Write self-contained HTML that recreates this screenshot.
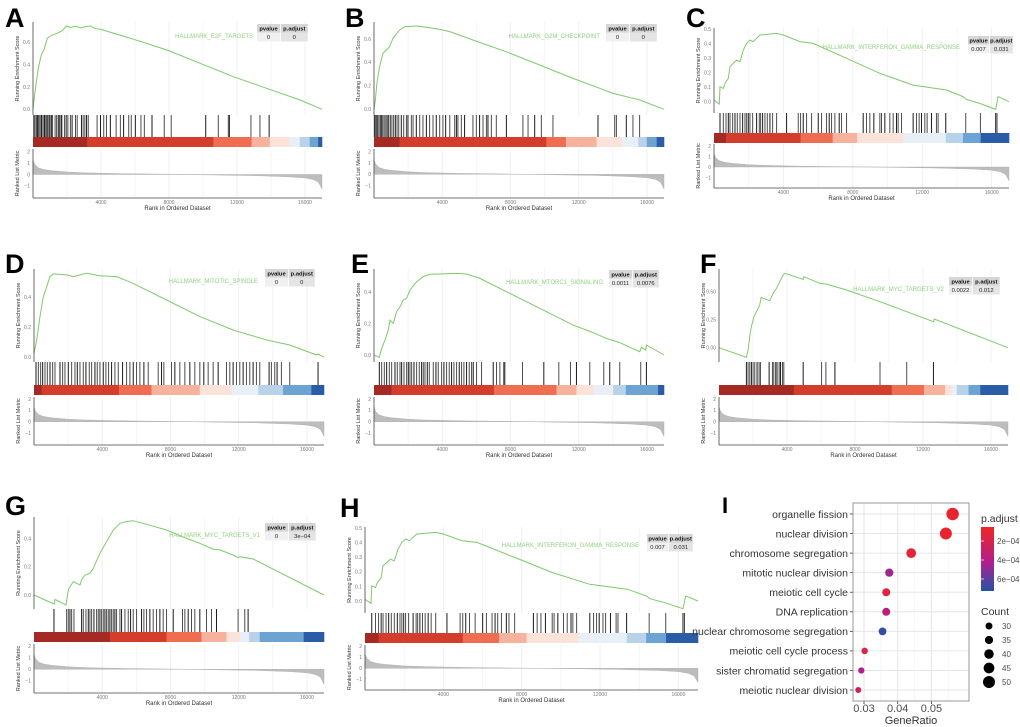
<!DOCTYPE html>
<html><head><meta charset="utf-8"><style>
html,body{margin:0;padding:0;background:#fff;}
svg{display:block;font-family:"Liberation Sans",sans-serif;}
</style></head><body>
<svg id="fig" width="1020" height="727" viewBox="0 0 1020 727" xmlns="http://www.w3.org/2000/svg"></svg>
<script>
// ---------- data ----------
const xTickLabels = [4000, 8000, 12000, 16000];
const metricRanks = [0,100,300,600,1000,2000,3000,5000,7000,9000,11000,13000,15000,16000,16500,16800,17000];
const metricVals  = [1.3,0.9,0.6,0.45,0.35,0.22,0.15,0.08,0.04,0,-0.05,-0.1,-0.2,-0.3,-0.45,-0.7,-1.3];
const barColors = ["#a52a23","#d43d2b","#ef6e52","#f6b29c","#fce3d9","#e8eff7","#b8d3e9","#6da3d2","#2b5ca8"];

const esRanksA = [0,60,160,250,350,490,640,840,1030,1430,1720,1970,2210,2500,2800,3090,3380,3680,3970,5930,7880,9830,11790,13740,15690,17000];
const esValsA  = [0,0.084,0.203,0.307,0.397,0.487,0.531,0.636,0.657,0.681,0.704,0.746,0.731,0.746,0.728,0.740,0.746,0.722,0.716,0.627,0.531,0.412,0.292,0.188,0.084,0];
const hitsA = [50,120,200,260,330,400,480,520,600,680,720,800,870,950,1000,1080,1150,1300,1400,1500,1560,1650,1700,1850,1950,2050,2200,2300,2500,2600,2850,2950,3050,3150,3250,3770,3970,4160,4320,4550,4890,5140,5330,5630,5780,6020,6350,6550,7000,7720,8130,10160,10900,11490,11550,12820,13350,13890];
const breaksA = [3185,10610,12860,13930,15070,15690,16280,16770];

const esRanksB = [0,80,170,330,530,720,920,1110,1500,1800,2480,3070,3850,4440,5800,7760,9710,11670,13230,14010,14790,15570,17000];
const esValsB  = [0,0.080,0.222,0.364,0.478,0.506,0.535,0.605,0.677,0.705,0.711,0.700,0.682,0.663,0.591,0.491,0.378,0.264,0.179,0.136,0.108,0.080,0];
const hitsB = [20,80,150,220,300,380,450,520,600,700,780,850,950,1050,1150,1250,1350,1450,1600,1740,1900,1990,2190,2290,2480,2680,2870,3070,3260,3460,3650,3850,4040,4200,4440,4730,4830,4920,5120,5310,5800,6000,6190,6390,6590,6680,6880,7170,7760,8730,9030,9420,9810,10490,13130,14110,14210,14790,15180,15570];
const breaksB = [1500,10100,11250,13050,14520,15500,15990,16570];

const esRanksC = [0,307,345,537,633,825,921,1113,1305,1497,1689,1880,2072,2264,2456,2648,3032,3608,3992,4951,5719,7638,9557,11476,13395,14354,14546,15314,16235,16370,17000];
const esValsC  = [0.012,-0.016,0.104,0.092,0.127,0.161,0.242,0.265,0.288,0.276,0.357,0.403,0.426,0.415,0.438,0.461,0.465,0.472,0.461,0.415,0.403,0.300,0.196,0.115,0.081,0.035,0.016,-0.012,-0.053,0.035,0];
const hitsC = [345,537,691,825,921,1075,1209,1343,1497,1650,1785,1881,1977,2072,2226,2456,2610,2687,2802,2936,3071,3224,3378,3608,4183,4855,4989,5143,5335,5623,6007,6198,6486,6640,6774,6966,7215,7350,7638,8597,8789,8981,9211,9557,9653,9845,10132,10324,10516,10612,10804,11476,11668,11821,11956,12148,12282,12531,12819,12915,13356,14507,15352,16234,16311];
const breaksC = [690,4990,6840,8250,10900,13360,14350,15370];

const esRanksD = [0,156,351,546,742,937,1132,1913,2303,3084,3865,4841,5817,7769,9720,11672,13624,14991,16552,16650,17000];
const esValsD  = [0.027,0.116,0.271,0.404,0.471,0.538,0.556,0.549,0.538,0.560,0.544,0.538,0.493,0.382,0.271,0.182,0.116,0.082,0.016,0.022,0];
const hitsD = [117,254,390,508,644,781,937,1093,1230,1523,1679,1815,2011,2206,2401,2538,2694,2889,3045,3240,3377,3572,3709,3865,4060,4216,4372,4548,4743,4939,5192,5427,5622,5817,6012,6207,6442,6695,7281,7476,7613,8062,8257,8550,8843,9136,9428,9721,9955,10209,10502,10795,11283,11478,11673,11868,12063,12259,12454,12649,12844,13039,13234,13781,13918,14113,14250,14503,14991,16651];
const breaksD = [450,4980,6890,9720,11580,13150,14600,16260];

const esRanksE = [0,312,449,644,839,937,1132,1327,1522,1718,1913,2108,2498,2889,3279,3865,4841,5427,6207,7769,9720,11672,12843,13624,14405,15576,15674,15928,15967,17000];
const esValsE  = [0,-0.015,0.043,0.096,0.160,0.223,0.202,0.277,0.309,0.351,0.362,0.415,0.468,0.500,0.515,0.517,0.521,0.517,0.489,0.404,0.298,0.191,0.143,0.106,0.079,0.021,0.049,0.032,0.064,0];
const hitsE = [312,449,605,742,898,1035,1230,1366,1523,1620,1757,1913,2011,2108,2206,2343,2499,2655,2791,2889,2987,3123,3240,3475,3631,3767,3963,4099,4255,4411,4548,4685,4841,4997,5134,5270,5427,5583,5719,5817,6012,6305,6988,7183,7379,7613,7672,8706,9955,10834,11517,11868,12649,13469,13820,14406,15636,15968];
const breaksE = [1030,7030,10700,11870,12890,14020,14760,16650];

const esRanksF = [0,1611,1710,1808,1906,2044,2201,2397,2476,2987,3184,3380,3577,3773,3872,4953,4992,5936,6329,7508,9473,11045,12617,12656,17000];
const esValsF  = [0,-0.086,-0.021,0.098,0.188,0.271,0.321,0.381,0.449,0.420,0.485,0.530,0.589,0.649,0.664,0.610,0.634,0.574,0.568,0.515,0.411,0.321,0.232,0.256,0];
const hitsF = [1611,1710,1808,1906,2004,2103,2240,2358,2437,2948,3144,3223,3341,3419,3537,3616,3734,3812,4952,6033,6288,6819,9471,11043,12615];
const breaksF = [4400,10160,12060,13300,13700,13990,14680,15370];

const esRanksG = [0,1171,1230,1874,2011,2108,2303,2694,2791,2987,3279,3474,3865,4256,4646,5036,5427,5817,6598,7769,8940,9720,10501,10891,11672,11965,12063,12843,17000];
const esValsG  = [0,-0.064,-0.031,-0.071,0.036,0.059,0.095,0.071,0.107,0.142,0.154,0.189,0.296,0.379,0.462,0.509,0.521,0.528,0.502,0.462,0.402,0.367,0.325,0.320,0.284,0.265,0.272,0.256,0];
const hitsG = [1171,1913,2011,2108,2206,2343,2791,2889,3045,3182,3279,3377,3514,3670,3767,3865,3963,4060,4158,4255,4353,4450,4548,4646,4743,4841,5036,5134,5329,5524,5661,5817,6012,6305,6442,6598,6793,6988,7183,7379,7574,7769,8160,8706,8843,9038,9233,9428,9721,10111,10404,10697,11966,12356,12551];
const breaksG = [4450,7770,9820,11280,12060,12610,13230,15810];

// dot plot (panel I)
const goTerms = ["organelle fission","nuclear division","chromosome segregation","mitotic nuclear division","meiotic cell cycle","DNA replication","nuclear chromosome segregation","meiotic cell cycle process","sister chromatid segregation","meiotic nuclear division"];
const goRatio = [0.0563,0.0543,0.0440,0.0375,0.0366,0.0366,0.0355,0.0302,0.0292,0.0283];
const goCount = [52,50,41,35,34,34,33,28,27,26];
const goPadj  = [0.9e-4,1.0e-4,1.2e-4,4.6e-4,1.5e-4,3.6e-4,7.0e-4,1.6e-4,4.2e-4,2.6e-4];
const goRatioTicks = [0.03,0.04,0.05];
const countLegend = [30,35,40,45,50];
const padjTicks = [2e-4,4e-4,6e-4];

// ---------- drawing ----------
const svg = document.getElementById('fig');
const NS = 'http://www.w3.org/2000/svg';
function mk(tag, attrs, parent){
  const e = document.createElementNS(NS, tag);
  for (const k in attrs) e.setAttribute(k, attrs[k]);
  (parent||svg).appendChild(e);
  return e;
}
function txt(s, attrs, parent){ const t = mk('text', attrs, parent); t.textContent = s; return t; }

const panels = [
 {id:'a',letter:'A',lx:5,ly:27,L:33,R:322,esTop:22,es0:109.3,esPer:111.7,esTicks:[0,0.2,0.4,0.6],fmt:1,hitTop:115,hitBot:137,cbTop:137,cbBot:147,mTop:149,mBot:198,m0:174.5,mPer:11.3,tx:257,ty:24,w1:23,w2:27,labR:253,labY:38,name:'HALLMARK_E2F_TARGETS',pv:'0',pa:'0',ranks:esRanksA,vals:esValsA,hits:hitsA,breaks:breaksA},
 {id:'b',letter:'B',lx:345,ly:27,L:374,R:664,esTop:22,es0:109.3,esPer:117.2,esTicks:[0,0.2,0.4,0.6],fmt:1,hitTop:115,hitBot:137,cbTop:137,cbBot:147,mTop:149,mBot:198,m0:174.3,mPer:11.3,tx:606,ty:24,w1:23,w2:27,labR:600,labY:38,name:'HALLMARK_G2M_CHECKPOINT',pv:'0',pa:'0',ranks:esRanksB,vals:esValsB,hits:hitsB,breaks:breaksB},
 {id:'c',letter:'C',lx:686,ly:27,L:714,R:1009,esTop:28,es0:101.7,esPer:144.7,esTicks:[0,0.1,0.2,0.3,0.4,0.5],fmt:1,hitTop:113,hitBot:133,cbTop:133,cbBot:143,mTop:144,mBot:188,m0:167,mPer:10.5,tx:968,ty:36,w1:21,w2:23,labR:960,labY:49,name:'HALLMARK_INTERFERON_GAMMA_RESPONSE',pv:'0.007',pa:'0.031',ranks:esRanksC,vals:esValsC,hits:hitsC,breaks:breaksC},
 {id:'d',letter:'D',lx:5,ly:273,L:34,R:324,esTop:269,es0:357.3,esPer:150,esTicks:[0,0.2,0.4],fmt:1,hitTop:362,hitBot:385,cbTop:385,cbBot:395,mTop:397,mBot:445,m0:421.7,mPer:11.3,tx:265,ty:269,w1:23,w2:26,labR:258,labY:283,name:'HALLMARK_MITOTIC_SPINDLE',pv:'0',pa:'0',ranks:esRanksD,vals:esValsD,hits:hitsD,breaks:breaksD},
 {id:'e',letter:'E',lx:351,ly:273,L:374,R:664,esTop:269,es0:355,esPer:156.7,esTicks:[0,0.2,0.4],fmt:1,hitTop:362,hitBot:385,cbTop:385,cbBot:395,mTop:397,mBot:445,m0:421.7,mPer:11.3,tx:609,ty:270,w1:23,w2:26,labR:603,labY:284,name:'HALLMARK_MTORC1_SIGNALING',pv:'0.0011',pa:'0.0076',ranks:esRanksE,vals:esValsE,hits:hitsE,breaks:breaksE},
 {id:'f',letter:'F',lx:700,ly:273,L:719,R:1008,esTop:269,es0:347.7,esPer:112,esTicks:[0,0.25,0.5],fmt:2,hitTop:362,hitBot:385,cbTop:385,cbBot:395,mTop:397,mBot:445,m0:421.7,mPer:11.3,tx:949,ty:277,w1:23,w2:27,labR:944,labY:291,name:'HALLMARK_MYC_TARGETS_V2',pv:'0.0022',pa:'0.012',ranks:esRanksF,vals:esValsF,hits:hitsF,breaks:breaksF},
 {id:'g',letter:'G',lx:5,ly:515,L:34,R:324,esTop:517,es0:595,esPer:140.8,esTicks:[0,0.2,0.4],fmt:1,hitTop:609,hitBot:632,cbTop:632,cbBot:642,mTop:644,mBot:693,m0:669.3,mPer:11.5,tx:265,ty:523,w1:23,w2:27,labR:260,labY:537,name:'HALLMARK_MYC_TARGETS_V1',pv:'0',pa:'3e\u221204',ranks:esRanksG,vals:esValsG,hits:hitsG,breaks:breaksG},
 {id:'h',letter:'H',lx:340,ly:517,L:365,R:698,esTop:527,es0:601,esPer:145.3,esTicks:[0,0.1,0.2,0.3,0.4,0.5],fmt:1,hitTop:613,hitBot:633,cbTop:633,cbBot:643,mTop:645,mBot:690,m0:668.3,mPer:11,tx:647,ty:534,w1:21,w2:24,labR:639,labY:547,name:'HALLMARK_INTERFERON_GAMMA_RESPONSE',pv:'0.007',pa:'0.031',ranks:esRanksC,vals:esValsC,hits:hitsC,breaks:breaksC}
];

const RMAX = 17000;
panels.forEach(p => {
  const g = mk('g', {});
  
  
  const X = r => p.L + r / RMAX * (p.R - p.L);
  const YE = v => p.es0 - v * p.esPer;
  const YM = v => p.m0 - v * p.mPer;
  for (let r = 2000; r < RMAX; r += 2000) {
    const major = r % 4000 === 0;
    const gl1 = mk('line', {x1:X(r),x2:X(r),y1:p.esTop,y2:p.hitTop,stroke:'#ececec','stroke-width':major?0.8:0.5}, g);
     
    const gl2 = mk('line', {x1:X(r),x2:X(r),y1:p.mTop,y2:p.mBot,stroke:'#ececec','stroke-width':major?0.8:0.5}, g);
     
  }
  p.esTicks.forEach(v => {
    const t = txt(v.toFixed(p.fmt), {x:p.L-3,y:YE(v)+1.8,'font-size':5,fill:'#777','text-anchor':'end'}, g);
     
  });
  const pts = p.ranks.map((r,i) => X(r).toFixed(1) + ',' + YE(p.vals[i]).toFixed(1)).join(' ');
  const es = mk('polyline', {points:pts,fill:'none',stroke:'#7fc96b','stroke-width':1}, g);
   
  p.hits.forEach((r,i) => {
    const h = mk('line', {x1:X(r),x2:X(r),y1:p.hitTop,y2:p.hitBot,stroke:'#000','stroke-opacity':(i%3===0?0.9:0.7),'stroke-width':1}, g);
     
  });
  const edges = [0].concat(p.breaks, [RMAX]);
  for (let i = 0; i < barColors.length; i++) {
    const rc = mk('rect', {x:X(edges[i]),y:p.cbTop,width:Math.max(0,X(edges[i+1])-X(edges[i]))+0.3,height:p.cbBot-p.cbTop,fill:barColors[i]}, g);
     
  }
  let d = 'M' + X(0) + ',' + YM(0);
  metricRanks.forEach((r,i) => { d += ' L' + X(r).toFixed(1) + ',' + YM(metricVals[i]).toFixed(1); });
  d += ' L' + X(RMAX) + ',' + YM(0) + ' Z';
  const mp = mk('path', {d:d,fill:'#bdbdbd',stroke:'#aaa','stroke-width':0.4}, g);
   
  [2,1,0,-1].forEach(v => {
    const t = txt(String(v).replace('-','\u2212'), {x:p.L-3,y:YM(v)+1.8,'font-size':5,fill:'#777','text-anchor':'end'}, g);
     
  });
  const ax1 = mk('line', {x1:p.L,x2:p.L,y1:p.esTop,y2:p.hitTop,stroke:'#444','stroke-width':0.8}, g);
   
  const ax2 = mk('line', {x1:p.L,x2:p.L,y1:p.mTop,y2:p.mBot,stroke:'#444','stroke-width':0.8}, g);
   
  const ax3 = mk('line', {x1:p.L,x2:p.R,y1:p.mBot,y2:p.mBot,stroke:'#444','stroke-width':0.8}, g);
   
  xTickLabels.forEach(v => {
    const t = txt(String(v), {x:X(v),y:p.mBot+6,'font-size':5,fill:'#777','text-anchor':'middle'}, g);
     
  });
  const xt = txt('Rank in Ordered Dataset', {x:(p.L+p.R)/2,y:p.mBot+12,'font-size':6,fill:'#333','text-anchor':'middle'}, g);
   
  const yc = (p.esTop + p.hitTop)/2, yx = p.L - 14;
  const yt = txt('Running Enrichment Score', {x:yx,y:yc,'font-size':5.5,fill:'#333','text-anchor':'middle',transform:'rotate(-90 '+yx+' '+yc+')'}, g);
   
  const yc2 = (p.mTop + p.mBot)/2;
  const yt2 = txt('Ranked List Metric', {x:yx,y:yc2,'font-size':5.5,fill:'#333','text-anchor':'middle',transform:'rotate(-90 '+yx+' '+yc2+')'}, g);
   
  const lt = txt(p.letter, {x:p.lx,y:p.ly,'font-size':27,'font-weight':'bold',fill:'#000'}, g);
   
  const gl = txt(p.name, {x:p.labR,y:p.labY,'font-size':6,fill:'#8fd07e','text-anchor':'end'}, g);
   
  const h = 8.5;
  const c1 = mk('rect',{x:p.tx,y:p.ty,width:p.w1,height:h,fill:'#d6d6d6'},g);
   
  const c2 = mk('rect',{x:p.tx+p.w1+0.8,y:p.ty,width:p.w2,height:h,fill:'#d6d6d6'},g);
   
  const c3 = mk('rect',{x:p.tx,y:p.ty+h,width:p.w1,height:h+0.5,fill:'#f0f0f0'},g);
   
  const c4 = mk('rect',{x:p.tx+p.w1+0.8,y:p.ty+h,width:p.w2,height:h+0.5,fill:'#e4e4e4'},g);
   
  const t1 = txt('pvalue',{x:p.tx+p.w1/2,y:p.ty+6.3,'font-size':5.8,'font-weight':'bold',fill:'#111','text-anchor':'middle'},g);
   
  const t2 = txt('p.adjust',{x:p.tx+p.w1+0.8+p.w2/2,y:p.ty+6.3,'font-size':5.8,'font-weight':'bold',fill:'#111','text-anchor':'middle'},g);
   
  const t3 = txt(p.pv,{x:p.tx+p.w1/2,y:p.ty+h+6.5,'font-size':5.8,fill:'#222','text-anchor':'middle'},g);
   
  const t4 = txt(p.pa,{x:p.tx+p.w1+0.8+p.w2/2,y:p.ty+h+6.5,'font-size':5.8,fill:'#222','text-anchor':'middle'},g);
   
});

// ---------- panel I ----------
(function(){
  const g = mk('g', {});
   
  const PL = 853, PR = 969, PT = 503, PB = 701;
  const X = v => 864 + (v - 0.03) * 3370;
  const Y = i => 514 + i * 19.56;
  const R = c => 3.5 + (c - 30) * 0.125;
  const stops = [[0,[238,38,36]],[0.55,[178,30,140]],[1,[36,84,166]]];
  const pMin = 0.53e-4, pMax = 7.26e-4;
  function col(p){
    let t = Math.min(1, Math.max(0, (p - pMin) / (pMax - pMin)));
    for (let k = 0; k < stops.length - 1; k++) {
      if (t <= stops[k+1][0]) {
        const u = (t - stops[k][0]) / (stops[k+1][0] - stops[k][0]);
        const a = stops[k][1], b = stops[k+1][1];
        return 'rgb(' + a.map((c,j)=>Math.round(c + (b[j]-c)*u)).join(',') + ')';
      }
    }
    return 'rgb(36,84,166)';
  }
  const bg = mk('rect',{x:PL,y:PT,width:PR-PL,height:PB-PT,fill:'#fff'},g);
   
  [0.025,0.035,0.045,0.055].forEach(v => {
    if (X(v) > PL && X(v) < PR) {
      const l = mk('line',{x1:X(v),x2:X(v),y1:PT,y2:PB,stroke:'#f2f2f2','stroke-width':0.6},g);
       
    }
  });
  goRatioTicks.forEach(v => {
    const l = mk('line',{x1:X(v),x2:X(v),y1:PT,y2:PB,stroke:'#e6e6e6','stroke-width':1},g);
     
    const tk = mk('line',{x1:X(v),x2:X(v),y1:PB,y2:PB+3,stroke:'#333','stroke-width':0.8},g);
     
    const t = txt(v.toFixed(2),{x:X(v),y:PB+11,'font-size':11,fill:'#4d4d4d','text-anchor':'middle'},g);
     
  });
  goTerms.forEach((name,i) => {
    const l = mk('line',{x1:PL,x2:PR,y1:Y(i),y2:Y(i),stroke:'#e6e6e6','stroke-width':1},g);
     
    const tk = mk('line',{x1:PL-3,x2:PL,y1:Y(i),y2:Y(i),stroke:'#333','stroke-width':0.8},g);
     
    const t = txt(name,{x:PL-5,y:Y(i)+3.8,'font-size':10.5,fill:'#333','text-anchor':'end'},g);
     
  });
  const bd = mk('rect',{x:PL,y:PT,width:PR-PL,height:PB-PT,fill:'none',stroke:'#999','stroke-width':1},g);
   
  goTerms.forEach((name,i) => {
    const c = mk('circle',{cx:X(goRatio[i]),cy:Y(i),r:R(goCount[i]),fill:col(goPadj[i])},g);
    
    
  });
  const xt = txt('GeneRatio',{x:(PL+PR)/2,y:724,'font-size':11,fill:'#333','text-anchor':'middle'},g);
   
  const lt = txt('I',{x:722,y:513,'font-size':22,'font-weight':'bold',fill:'#000'},g);
   
  const defs = mk('defs',{},g);
  const lg = mk('linearGradient',{id:'padjGrad',x1:0,y1:0,x2:0,y2:1},defs);
  stops.forEach(s => mk('stop',{offset:s[0],'stop-color':'rgb('+s[1].join(',')+')'},lg));
  const pt = txt('p.adjust',{x:981,y:522,'font-size':10.5,fill:'#333'},g);
   
  const LT = 527, LB = 591;
  const cb = mk('rect',{x:981,y:LT,width:13,height:LB-LT,fill:'url(#padjGrad)'},g);
   
  padjTicks.forEach(v => {
    const y = LT + (v - pMin)/(pMax - pMin)*(LB-LT);
    const tl = mk('line',{x1:981,x2:984,y1:y,y2:y,stroke:'#fff','stroke-width':0.7},g);
     
    const t = txt((v*1e4).toFixed(0)+'e\u221204',{x:997,y:y+3,'font-size':8,fill:'#4d4d4d'},g);
     
  });
  const ct = txt('Count',{x:981,y:615,'font-size':10.5,fill:'#333'},g);
   
  countLegend.forEach((c,i) => {
    const y = 626 + i * 14;
    const cc = mk('circle',{cx:989,cy:y,r:R(c),fill:'#000'},g);
     
    const t = txt(String(c),{x:1002,y:y+3,'font-size':8,fill:'#4d4d4d'},g);
     
  });
})();
</script>
</body></html>
